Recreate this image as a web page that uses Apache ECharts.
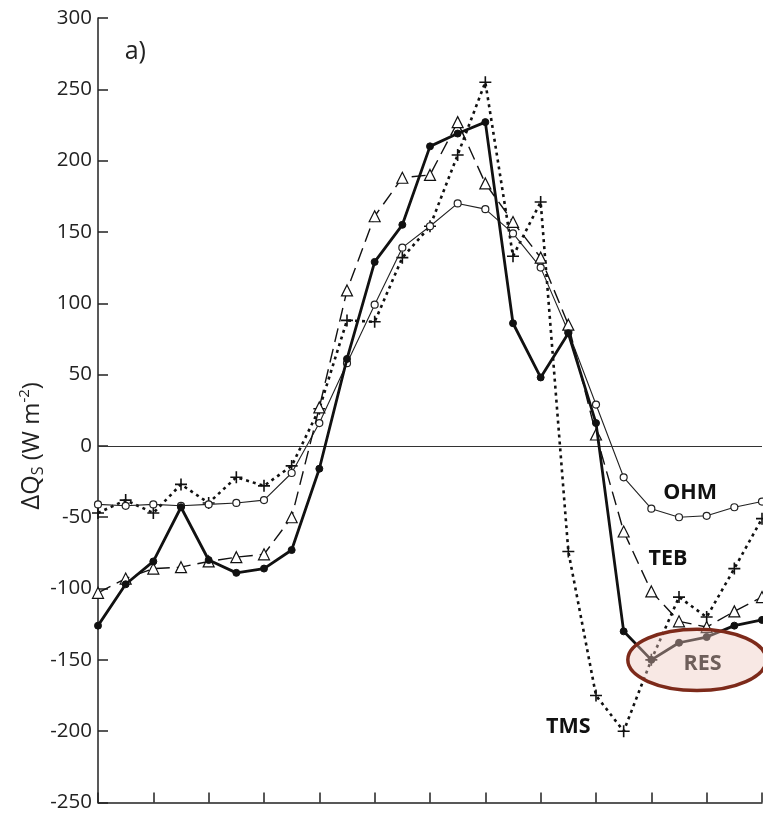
<!DOCTYPE html>
<html>
<head>
<meta charset="utf-8">
<script src="https://cdn.jsdelivr.net/npm/echarts@6/dist/echarts.min.js"></script>
<style>html,body{margin:0;padding:0;background:#fff;}#c{width:763px;height:813px;}</style>
</head>
<body>
<div id="c"></div>
<script>
// x positions: half-steps, 25 points (0..24)
const xs = [0,1,2,3,4,5,6,7,8,9,10,11,12,13,14,15,16,17,18,19,20,21,22,23,24];
const RES = [-126,-97,-81,-43,-80,-89,-86,-73,-16,61,129,155,210,219,227,86,48,79,16,-130,-150,-138,-134,-126,-122];
const OHM = [-41,-42,-41,-42,-41,-40,-38,-19,16,58,99,139,154,170,166,149,125,80,29,-22,-44,-50,-49,-43,-39];
const TEB = [-103,-93,-86,-85,-81,-78,-76,-50,27,109,161,188,190,227,184,157,132,85,8,-60,-102,-123,-127,-116,-106];
const TMS = [-47,-38,-47,-27,-40,-22,-28,-14,26,88,87,132,154,204,255,133,171,-74,-175,-200,-150,-106,-120,-86,-51];
const yTicks = [-250,-200,-150,-100,-50,0,50,100,150,200,250,300];
const seriesLabels = [
  {text:'OHM', x:21.4, y:-33},
  {text:'TEB', x:20.6, y:-79},
  {text:'TMS', x:17.0, y:-197}
];
const resLabel = {text:'RES', x:21.85, y:-153};
const ellipseCenter = {x:21.65, y:-150, rxUnits:2.5, ryUnits:21.5};

const pts = a => a.map((v,i)=>[xs[i], v]);
const FONT = 'Open Sans';
const chart = echarts.init(document.getElementById('c'));
const plus = 'path://M0,5L10,5M5,0L5,10';
chart.setOption({
  animation:false,
  backgroundColor:'#fff',
  grid:{left:98, right:1, top:18, bottom:10, containLabel:false},
  xAxis:{type:'value', min:0, max:24, interval:2,
    axisLine:{show:true, onZero:false, lineStyle:{color:'#222', width:1.5}},
    axisTick:{show:true, inside:true, length:10, lineStyle:{color:'#222', width:1.5}},
    axisLabel:{show:false}, splitLine:{show:false}},
  yAxis:{type:'value', min:-250, max:300, interval:50,
    axisLine:{show:true, lineStyle:{color:'#222', width:1.5}},
    axisTick:{show:true, inside:true, length:10, lineStyle:{color:'#222', width:1.5}},
    axisLabel:{fontFamily:FONT, fontSize:20.5, color:'#222', margin:6,
      formatter: v => yTicks.includes(v) ? String(v) : ''},
    splitLine:{show:false}
  },
  series:[
    {name:'TMS', type:'line', data:pts(TMS), symbol:plus, symbolSize:12,
     lineStyle:{color:'#111', width:2.6, type:[3,4]},
     itemStyle:{color:'#fff', borderColor:'#111', borderWidth:1.6}, z:2,
     markLine:{silent:true, symbol:'none', label:{show:false},
       lineStyle:{color:'#333', width:1, type:'solid'}, data:[{yAxis:0}]}},
    {name:'OHM', type:'line', data:pts(OHM), symbol:'circle', symbolSize:7,
     lineStyle:{color:'#222', width:1.1},
     itemStyle:{color:'#fff', borderColor:'#222', borderWidth:1.2}, z:3},
    {name:'TEB', type:'line', data:pts(TEB), symbol:'triangle', symbolSize:11,
     lineStyle:{color:'#111', width:1.4, type:[14,7]},
     itemStyle:{color:'#fff', borderColor:'#111', borderWidth:1.2}, z:4},
    {name:'RES', type:'line', data:pts(RES), symbol:'circle', symbolSize:7,
     lineStyle:{color:'#111', width:2.8},
     itemStyle:{color:'#111', borderColor:'#111'}, z:5}
  ]
});

function px(x,y){ return chart.convertToPixel({gridIndex:0}, [x,y]); }
const graphics = [];
seriesLabels.forEach(l=>{
  const p = px(l.x,l.y);
  graphics.push({type:'text', x:p[0], y:p[1], z:50,
    style:{text:l.text, fontFamily:FONT, fontWeight:'bold', fontSize:21.5, fill:'#111', align:'center', verticalAlign:'middle'}});
});
const c = px(ellipseCenter.x, ellipseCenter.y);
const e1 = px(ellipseCenter.x + ellipseCenter.rxUnits, ellipseCenter.y + ellipseCenter.ryUnits);
graphics.push({type:'ellipse', z:60,
  shape:{cx:c[0], cy:c[1], rx:Math.abs(e1[0]-c[0]), ry:Math.abs(e1[1]-c[1])},
  style:{fill:'rgba(238,200,190,0.42)', stroke:'#7d2a1a', lineWidth:3.5}});
const r = px(resLabel.x, resLabel.y);
graphics.push({type:'text', x:r[0], y:r[1], z:61,
  style:{text:resLabel.text, fontFamily:FONT, fontWeight:'bold', fontSize:21.5, fill:'#6e5f5b', align:'center', verticalAlign:'middle'}});
const a = px(1.35, 276);
graphics.push({type:'text', x:a[0], y:a[1], z:50,
  style:{text:'a)', fontFamily:FONT, fontSize:25, fill:'#222', align:'center', verticalAlign:'middle'}});
// y-axis title, rotated
const yt = px(0, 0);
graphics.push({type:'text', x:yt[0]-66, y:yt[1], rotation:Math.PI/2, z:50,
  style:{text:'{d|Δ}{q|Q}{s|S}{n| (W m}{p|-2}{n|)}', align:'center', verticalAlign:'middle',
    rich:{d:{fontSize:26, fontFamily:FONT, fill:'#222', color:'#222'},
          q:{fontSize:25, fontFamily:FONT, fill:'#222', color:'#222'},
          s:{fontSize:16, fontFamily:FONT, fill:'#222', color:'#222', padding:[12,0,0,0]},
          n:{fontSize:24, fontFamily:FONT, fill:'#222', color:'#222'},
          p:{fontSize:15, fontFamily:FONT, fill:'#222', color:'#222', padding:[0,0,14,0]}}}});
chart.setOption({graphic:graphics});
</script>
</body>
</html>
